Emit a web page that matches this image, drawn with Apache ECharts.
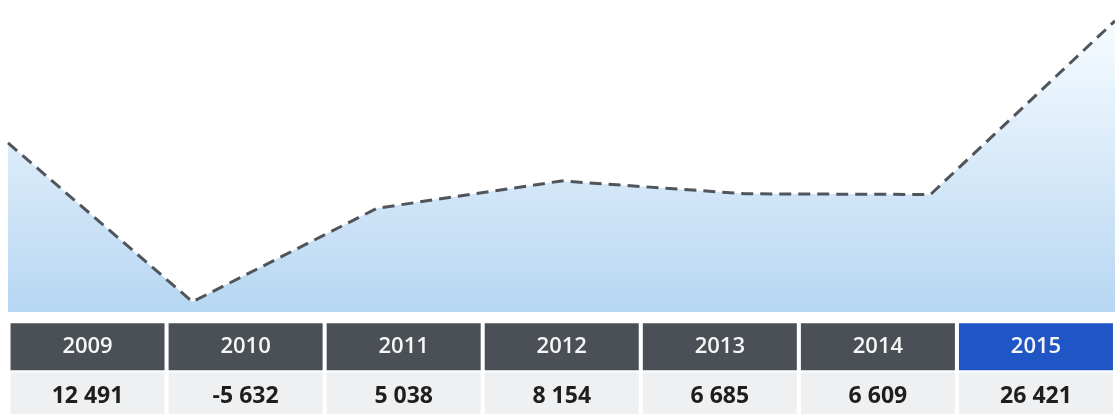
<!DOCTYPE html>
<html>
<head>
<meta charset="utf-8">
<script src="https://cdn.jsdelivr.net/npm/echarts@6/dist/echarts.min.js"></script>
<style>
  html, body { margin: 0; padding: 0; background: #ffffff; }
  #chart { width: 1115px; height: 414px; }
</style>
</head>
<body>
<div id="chart"></div>
<script>
const years = ['2009', '2010', '2011', '2012', '2013', '2014', '2015'];
const values = [12491, -5632, 5038, 8154, 6685, 6609, 26421];
const highlightYear = '2015';

function fmt(v) {
  const s = String(Math.abs(v)).replace(/\B(?=(\d{3})+(?!\d))/g, ' ');
  return (v < 0 ? '-' : '') + s;
}

const chart = echarts.init(document.getElementById('chart'), null, { renderer: 'canvas' });

const cellW = 154;

const option = {
  animation: false,
  backgroundColor: '#ffffff',
  grid: [
    { left: 8, top: 0, width: 1110, height: 312 },
    { left: 8.5, top: 323, width: 1120, height: 1 }
  ],
  xAxis: [
    {
      gridIndex: 0,
      type: 'category',
      data: years,
      boundaryGap: false,
      show: false
    },
    {
      gridIndex: 1,
      type: 'category',
      data: years,
      boundaryGap: true,
      axisLine: { show: false },
      axisTick: { show: false },
      axisLabel: {
        interval: 0,
        margin: 0,
        fontFamily: 'Open Sans',
        formatter: function (val, idx) {
          const head = val === highlightYear ? 'hb' : 'h';
          return '{' + head + '|' + val + '}\n{s| }\n{v|' + fmt(values[idx]) + '}';
        },
        rich: {
          h: {
            width: cellW, height: 47, lineHeight: 47,
            backgroundColor: '#4b5056', color: '#f6f6f6',
            fontFamily: 'Open Sans', fontSize: 22, fontWeight: 600, align: 'center'
          },
          hb: {
            width: cellW, height: 47, lineHeight: 47,
            backgroundColor: '#1f55c4', color: '#f6f6f6',
            fontFamily: 'Open Sans', fontSize: 22, fontWeight: 600, align: 'center'
          },
          s: {
            width: cellW, height: 2, lineHeight: 2, fontSize: 1
          },
          v: {
            width: cellW, height: 48, lineHeight: 48,
            backgroundColor: '#eff0f2', color: '#1e1e1e',
            fontFamily: 'Open Sans', fontSize: 23, fontWeight: 'bold', align: 'center'
          }
        }
      }
    }
  ],
  yAxis: [
    { gridIndex: 0, type: 'value', min: -6800, max: 28800, show: false },
    { gridIndex: 1, type: 'value', show: false }
  ],
  series: [
    {
      type: 'line',
      xAxisIndex: 0,
      yAxisIndex: 0,
      data: values,
      symbol: 'none',
      lineStyle: { color: '#50555b', width: 3, type: [12, 7] },
      areaStyle: {
        origin: 'start',
        color: new echarts.graphic.LinearGradient(0, 0, 0, 1, [
          { offset: 0, color: '#f3fbff' },
          { offset: 1, color: '#98c5ed' }
        ])
      }
    }
  ]
};

chart.setOption(option);
</script>
</body>
</html>
